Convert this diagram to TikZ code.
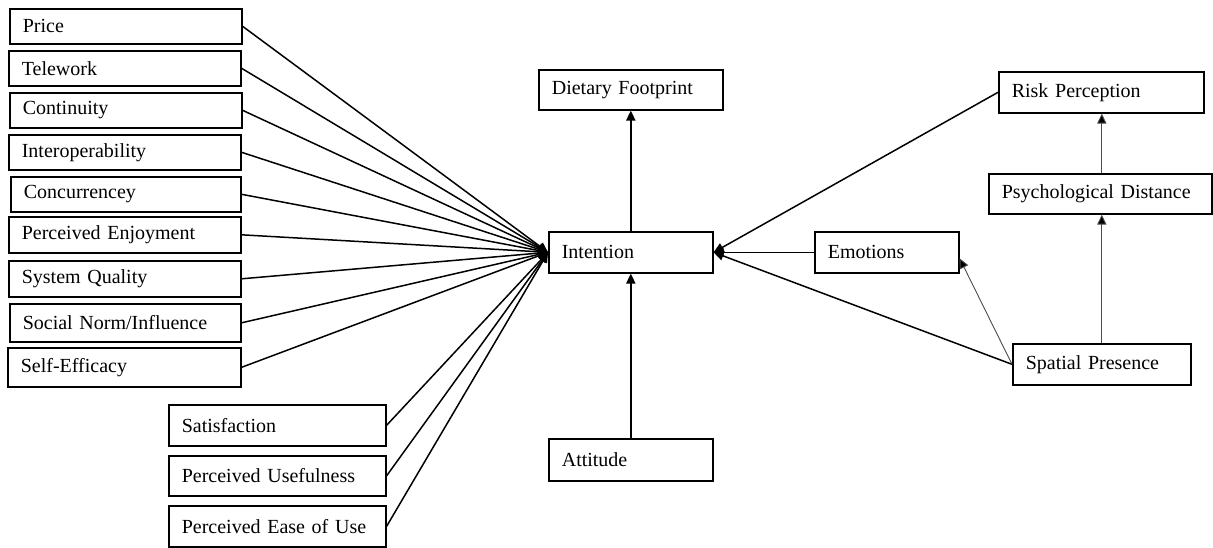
\documentclass[tikz,border=0pt]{standalone}
\usepackage{fontspec}
\setmainfont{Liberation Serif}
\usetikzlibrary{arrows.meta}
\tikzset{
  box/.style={draw, line width=0.8pt, inner xsep=6.5pt, inner ysep=0pt, align=left, font=\fontsize{10}{12}\selectfont},
  arr/.style={line width=0.75pt, -{Triangle[length=5pt,width=4.6pt]}},
  thinarr/.style={line width=0.45pt, draw=black!70, -{Triangle[length=5pt,width=4.6pt,fill=black]}}
}
\newcommand\mybx[6]{%
  \pgfmathsetmacro\myBW{(#4-#2-26)/2}%
  \pgfmathsetmacro\myBH{(#5-#3)/2}%
  \node[box,anchor=north west,text width=\myBW pt,minimum height=\myBH pt] (#1) at (#2,#3) {#6};}
\begin{document}
\begin{tikzpicture}[x=0.5pt,y=-0.5pt]
\useasboundingbox (0,0) rectangle (1213,547);
% left column
\mybx{price}{9}{8}{241}{43}{Price}
\mybx{telework}{8}{50}{240}{85}{Telework}
\mybx{continuity}{9}{92}{241}{127}{Continuity}
\mybx{interop}{8}{134}{240}{169}{Interoperability}
\mybx{concur}{10}{176}{240}{211}{Concurrencey}
\mybx{enjoy}{8}{216}{240}{252}{Perceived Enjoyment}
\mybx{sysq}{8}{260}{240}{296}{System Quality}
\mybx{social}{9}{303}{240}{341}{Social Norm/Influence}
\mybx{selfeff}{7}{347}{240}{386}{Self-Efficacy}
\mybx{satis}{168}{404}{385}{445}{Satisfaction}
\mybx{useful}{168}{455}{385}{495}{Perceived Usefulness}
\mybx{ease}{168}{505}{385}{546}{Perceived Ease of Use}
% centre
\mybx{intention}{548}{231}{712}{272}{Intention}
\mybx{diet}{538}{69}{722}{109}{Dietary Footprint}
\mybx{attitude}{548}{438}{712}{480}{Attitude}
% right
\mybx{risk}{998}{71}{1203}{112}{Risk Perception}
\mybx{psych}{988}{173}{1211}{213}{Psychological Distance}
\mybx{emotions}{814}{231}{958}{272}{Emotions}
\mybx{spatial}{1012}{343}{1190}{384}{Spatial Presence}
% connectors left
\foreach \n in {price,telework,continuity,interop,concur,enjoy,sysq,social,selfeff,satis,useful,ease}
  \draw[arr] (\n.east) -- (intention.west);
% centre
\draw[arr] (intention.north) -- (diet.south);
\draw[arr] (attitude.north) -- (intention.south);
% right
\draw[arr] (risk.west) -- (intention.east);
\draw[arr] (emotions.west) -- (intention.east);
\draw[arr] (spatial.west) -- (intention.east);
\draw[thinarr] (spatial.west) -- ([yshift=-3pt]emotions.east);
\draw[thinarr] (spatial.north) -- (spatial.north |- psych.south);
\draw[thinarr] (psych.north -| spatial.north) -- (spatial.north |- risk.south);
\end{tikzpicture}
\end{document}
